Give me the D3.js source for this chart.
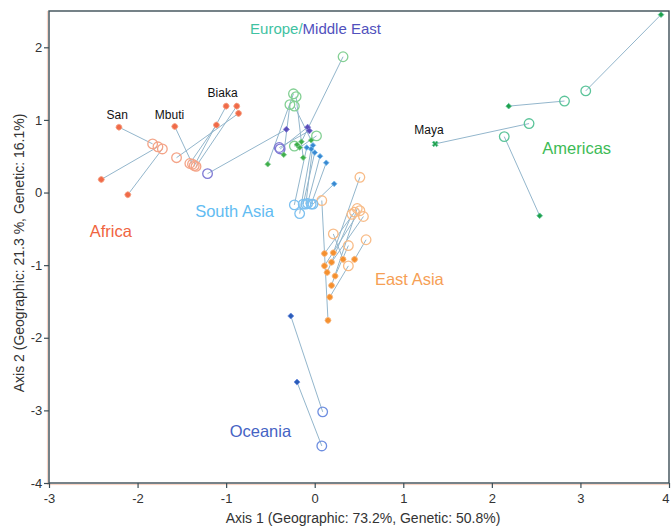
<!DOCTYPE html>
<html>
<head>
<meta charset="utf-8">
<script src="https://cdn.jsdelivr.net/npm/d3@7"></script>
<style>
  body { margin: 0; background: #fff; }
  svg { font-family: "Liberation Sans", Arial, sans-serif; }
</style>
</head>
<body>
<div id="chart"></div>
<script>
// each row: genetic point x, y, geographic point x, y
var africa = [
  [-2.21, 0.90, -1.83, 0.67],
  [-2.41, 0.18, -1.77, 0.63],
  [-2.11, -0.03, -1.72, 0.60],
  [-1.58, 0.91, -1.38, 0.39],
  [-1.00, 1.19, -1.36, 0.37],
  [-0.88, 1.19, -1.34, 0.36],
  [-0.86, 1.09, -1.56, 0.48],
  [-1.11, 0.93, -1.41, 0.40]
];
var middleEast = [
  [-0.32, 0.87, -1.21, 0.26],
  [-0.08, 0.90, -0.39, 0.60],
  [-0.06, 0.85, -0.40, 0.62]
];
var europe = [
  [-0.53, 0.39, -0.24, 1.36],
  [-0.35, 0.52, -0.28, 1.21],
  [-0.13, 0.48, -0.21, 1.32],
  [-0.04, 0.72, -0.23, 1.19],
  [-0.15, 0.70, 0.32, 1.87],
  [-0.17, 0.62, 0.02, 0.78],
  [-0.20, 0.66, -0.23, 0.64]
];
var southAsia = [
  [-0.09, 0.62, -0.23, -0.17],
  [-0.04, 0.60, -0.17, -0.29],
  [0.00, 0.55, -0.13, -0.16],
  [0.06, 0.50, -0.08, -0.15],
  [0.13, 0.41, -0.04, -0.16],
  [0.22, 0.12, -0.02, -0.16],
  [-0.02, 0.65, -0.10, -0.16]
];
var eastAsia = [
  [0.15, -1.76, 0.08, -0.11],
  [0.11, -0.84, 0.45, -0.27],
  [0.21, -0.83, 0.51, 0.21],
  [0.11, -1.01, 0.51, -0.25],
  [0.19, -0.96, 0.55, -0.33],
  [0.32, -0.92, 0.21, -0.57],
  [0.45, -0.92, 0.58, -0.65],
  [0.23, -1.15, 0.38, -0.73],
  [0.19, -1.28, 0.48, -0.22],
  [0.17, -1.44, 0.38, -1.01],
  [0.14, -1.10, 0.42, -0.30]
];
var oceania = [
  [-0.27, -1.70, 0.09, -3.02],
  [-0.20, -2.61, 0.08, -3.49]
];
var americas = [
  [3.91, 2.45, 3.06, 1.40],
  [2.19, 1.19, 2.82, 1.26],
  [1.36, 0.67, 2.42, 0.95],
  [2.54, -0.32, 2.14, 0.77]
];

var xTicks = [-3, -2, -1, 0, 1, 2, 3, 4];
var yTicks = [-4, -3, -2, -1, 0, 1, 2];

// region labels: text, x, y (data units, left/baseline)
var regionLabels = [
  ["Africa", -2.54, -0.61],
  ["South Asia", -1.35, -0.33],
  ["East Asia", 0.68, -1.27],
  ["Oceania", -0.96, -3.36],
  ["Americas", 2.57, 0.53]
];
var popLabels = [
  ["San", -2.23, 1.01],
  ["Mbuti", -1.64, 1.01],
  ["Biaka", -1.04, 1.32],
  ["Maya", 1.29, 0.81]
];

var groups = [
  { rows: africa, dot: "#f06a48", ring: "#f4a488", shape: d3.symbolCircle, size: 26 },
  { rows: eastAsia, dot: "#f5902e", ring: "#f8bc88", shape: d3.symbolCircle, size: 26 },
  { rows: europe, dot: "#3fae4a", ring: "#84d094", shape: d3.symbolSquare, size: 16 },
  { rows: middleEast, dot: "#5a4eb8", ring: "#7f7ad4", shape: d3.symbolSquare, size: 18 },
  { rows: southAsia, dot: "#3a88d0", ring: "#7cc0f0", shape: d3.symbolSquare, size: 16 },
  { rows: oceania, dot: "#2a5cb8", ring: "#6f8fe0", shape: d3.symbolSquare, size: 18 },
  { rows: americas, dot: "#21a04a", ring: "#5cc49a", shape: d3.symbolSquare, size: 16 }
];
var labelColors = {
  "Africa": "#f0643e", "South Asia": "#62bcf2", "East Asia": "#f6a055",
  "Oceania": "#4563c4", "Americas": "#3dbb55"
};

var W = 671, H = 527;
var margin = { top: 11, right: 2, bottom: 44, left: 49 };
var width = W - margin.left - margin.right;
var height = H - margin.top - margin.bottom;

var x = d3.scaleLinear().domain([-3, 4]).range([0, width]);
var y = d3.scaleLinear().domain([-4, 2.5]).range([height, 0]);

var svg = d3.select("#chart").append("svg")
  .attr("width", W).attr("height", H);

var g = svg.append("g")
  .attr("transform", "translate(" + margin.left + "," + margin.top + ")");

// lines first
groups.forEach(function (grp) {
  g.selectAll(null).data(grp.rows).enter().append("line")
    .attr("x1", d => x(d[0])).attr("y1", d => y(d[1]))
    .attr("x2", d => x(d[2])).attr("y2", d => y(d[3]))
    .attr("stroke", "#93b6cc").attr("stroke-width", 1);
});

// open circles
groups.forEach(function (grp) {
  g.selectAll(null).data(grp.rows).enter().append("circle")
    .attr("cx", d => x(d[2])).attr("cy", d => y(d[3]))
    .attr("r", 4.8)
    .attr("fill", "none")
    .attr("stroke", grp.ring).attr("stroke-width", 1.3);
});

// filled points (squares drawn rotated as small diamonds)
groups.forEach(function (grp) {
  g.selectAll(null).data(grp.rows).enter().append("path")
    .attr("transform", d => "translate(" + x(d[0]) + "," + y(d[1]) + ") rotate(45)")
    .attr("d", function (d) {
      if (grp.rows === americas && d[0] === 1.36) return d3.symbol(d3.symbolCross, 20)();
      return d3.symbol(grp.shape, grp.size)();
    })
    .attr("fill", grp.dot)
    .attr("stroke", grp.ring).attr("stroke-width", 0.8);
});

// frame
g.append("path")
  .attr("d", "M-1.6,0V" + (height + 1.6) + "H" + width)
  .attr("fill", "none").attr("stroke", "#f9d2c2").attr("stroke-width", 1);
g.append("rect")
  .attr("x", 0).attr("y", 0).attr("width", width).attr("height", height)
  .attr("fill", "none").attr("stroke", "#3c4e56").attr("stroke-width", 1.4);

var xAxis = g.append("g")
  .attr("transform", "translate(0," + height + ")")
  .call(d3.axisBottom(x).tickValues(xTicks).tickSize(5).tickSizeOuter(0));
var yAxis = g.append("g")
  .call(d3.axisLeft(y).tickValues(yTicks).tickSize(5).tickSizeOuter(0));

[xAxis, yAxis].forEach(function (a) {
  a.select(".domain").remove();
  a.selectAll("line").attr("stroke", "#3c4e56").attr("stroke-width", 1.2);
  a.selectAll("text").attr("fill", "#333").style("font-size", "13px")
    .text(function (d) { return d < 0 ? "-" + Math.abs(d) : d; });
});
xAxis.selectAll("text").attr("dy", "0.9em");
yAxis.selectAll("text").attr("dx", "0.1em");
// keep the last label inside the page
xAxis.selectAll(".tick text").filter(d => d === 4).attr("text-anchor", "end").attr("dx", "0");

// region labels
g.selectAll(null).data(regionLabels).enter().append("text")
  .attr("x", d => x(d[1])).attr("y", d => y(d[2]))
  .attr("fill", d => labelColors[d[0]])
  .style("font-size", "16.5px")
  .text(d => d[0]);

var em = g.append("text")
  .attr("x", x(-0.73)).attr("y", y(2.18))
  .style("font-size", "15px");
em.append("tspan").attr("fill", "#3fc2a2").text("Europe/");
em.append("tspan").attr("fill", "#5151bd").text("Middle East");

g.selectAll(null).data(popLabels).enter().append("text")
  .attr("x", d => x(d[1])).attr("y", d => y(d[2]))
  .attr("text-anchor", "middle")
  .attr("fill", "#111")
  .style("font-size", "12px")
  .text(d => d[0]);

// axis titles
svg.append("text")
  .attr("x", margin.left + width / 2 + 4).attr("y", 523)
  .attr("text-anchor", "middle").attr("fill", "#333")
  .style("font-size", "14px")
  .text("Axis 1 (Geographic: 73.2%, Genetic: 50.8%)");
svg.append("text")
  .attr("transform", "translate(24," + (margin.top + height / 2 + 6) + ") rotate(-90)")
  .attr("text-anchor", "middle").attr("fill", "#333")
  .style("font-size", "14px")
  .text("Axis 2 (Geographic: 21.3 %, Genetic: 16.1%)");
</script>
</body>
</html>
